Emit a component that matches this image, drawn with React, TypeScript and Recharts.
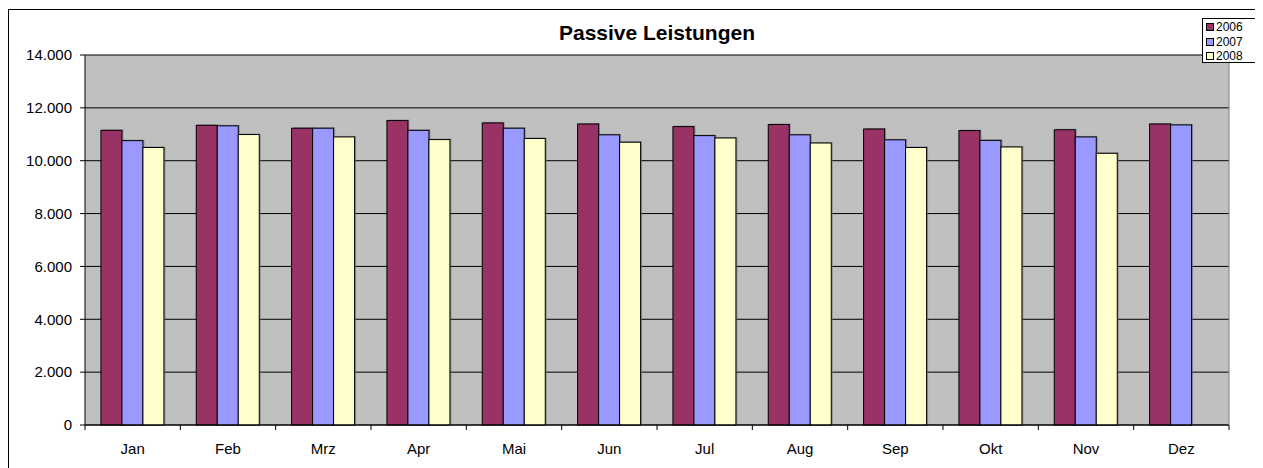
import React from "react";
import { Bar, BarChart, CartesianGrid, XAxis, YAxis } from "recharts";

const MONTHS = ["Jan", "Feb", "Mrz", "Apr", "Mai", "Jun", "Jul", "Aug", "Sep", "Okt", "Nov", "Dez"];
const VALUES_2006 = [11150, 11340, 11230, 11520, 11430, 11390, 11290, 11370, 11200, 11140, 11170, 11390];
const VALUES_2007 = [10760, 11320, 11230, 11150, 11230, 10980, 10950, 10980, 10790, 10770, 10900, 11355];
const VALUES_2008 = [10500, 10990, 10900, 10800, 10840, 10700, 10860, 10670, 10500, 10520, 10280, null];
const Y_TICKS = [0, 2000, 4000, 6000, 8000, 10000, 12000, 14000];

const SERIES = [
  { key: "y2006", name: "2006", color: "#993366" },
  { key: "y2007", name: "2007", color: "#9999FF" },
  { key: "y2008", name: "2008", color: "#FFFFCC" },
];

const FONT = "'Liberation Sans', Arial, sans-serif";

const chartData = MONTHS.map((month, i) => ({
  month,
  y2006: VALUES_2006[i],
  y2007: VALUES_2007[i],
  y2008: VALUES_2008[i],
}));

const formatThousands = (v: number) => v.toLocaleString("de-DE");

function MonthTick(props: any) {
  const { x, y, payload, index, width, visibleTicksCount } = props;
  const count = visibleTicksCount || MONTHS.length;
  const bw = (width || 1144) / count;
  const left = x - bw / 2;
  return (
    <g>
      <line x1={left} y1={y} x2={left} y2={y + 5} stroke="#000" />
      {index === count - 1 && <line x1={x + bw / 2} y1={y} x2={x + bw / 2} y2={y + 5} stroke="#000" />}
      <text x={x} y={y + 29} textAnchor="middle" fill="#000" fontSize={15} fontFamily={FONT}>
        {payload.value}
      </text>
    </g>
  );
}

function ShadowBar(props: any) {
  const { x, y, width, height, fill } = props;
  if (!height || height <= 0) return null;
  return (
    <g>
      <rect x={x + 1.5} y={y - 1} width={width} height={height + 1} fill="#6e6e6e" opacity={0.6} />
      <rect x={x} y={y} width={width} height={height} fill={fill} stroke="#000" strokeWidth={1} />
    </g>
  );
}

function LegendBox() {
  return (
    <div
      style={{
        position: "absolute",
        top: 8,
        left: 1193,
        border: "1px solid #000",
        background: "#fff",
        width: 59,
        height: 42,
        fontFamily: FONT,
        fontSize: 12,
        lineHeight: "14.5px",
        paddingTop: 1,
      }}
    >
      {SERIES.map((s) => (
        <div key={s.key} style={{ display: "flex", alignItems: "center", paddingLeft: 3 }}>
          <span
            style={{
              display: "inline-block",
              width: 6,
              height: 6,
              border: "1px solid #000",
              background: s.color,
              marginRight: 2,
            }}
          />
          <span>{s.name}</span>
        </div>
      ))}
    </div>
  );
}

export default function App() {
  return (
    <div
      style={{
        position: "relative",
        width: 1254,
        height: 458,
        marginTop: 1,
        borderTop: "1px solid #000",
        borderLeft: "1px solid #000",
        background: "#fff",
      }}
    >
      <div
        style={{
          position: "absolute",
          left: 76,
          width: 1144,
          top: 11,
          textAlign: "center",
          fontFamily: FONT,
          fontWeight: "bold",
          fontSize: 21,
          lineHeight: "24px",
          color: "#000",
        }}
      >
        Passive Leistungen
      </div>
      <BarChart
        width={1254}
        height={458}
        data={chartData}
        margin={{ top: 45, right: 33, bottom: 0, left: 0 }}
        barCategoryGap="16.7%"
        barGap={0}
      >
        <CartesianGrid vertical={false} stroke="#000" fill="#C0C0C0" fillOpacity={1} />
        <XAxis
          dataKey="month"
          tickLine={false}
          tickSize={0}
          tickMargin={0}
          interval={0}
          height={43}
          axisLine={{ stroke: "#000" }}
          tick={<MonthTick />}
        />
        <YAxis
          domain={[0, 14000]}
          ticks={Y_TICKS}
          interval={0}
          width={76}
          tickSize={5}
          tickMargin={8}
          tickFormatter={formatThousands}
          tick={{ fill: "#000", fontSize: 15, fontFamily: FONT }}
          tickLine={{ stroke: "#000" }}
          axisLine={{ stroke: "#000" }}
        />
        <YAxis
          yAxisId="frame"
          orientation="right"
          domain={[0, 14000]}
          width={1}
          tick={false}
          tickLine={false}
          axisLine={{ stroke: "#808080" }}
        />
        {SERIES.map((s) => (
          <Bar
            key={s.key}
            dataKey={s.key}
            name={s.name}
            fill={s.color}
            isAnimationActive={false}
            shape={<ShadowBar />}
          />
        ))}
      </BarChart>
      <LegendBox />
    </div>
  );
}
